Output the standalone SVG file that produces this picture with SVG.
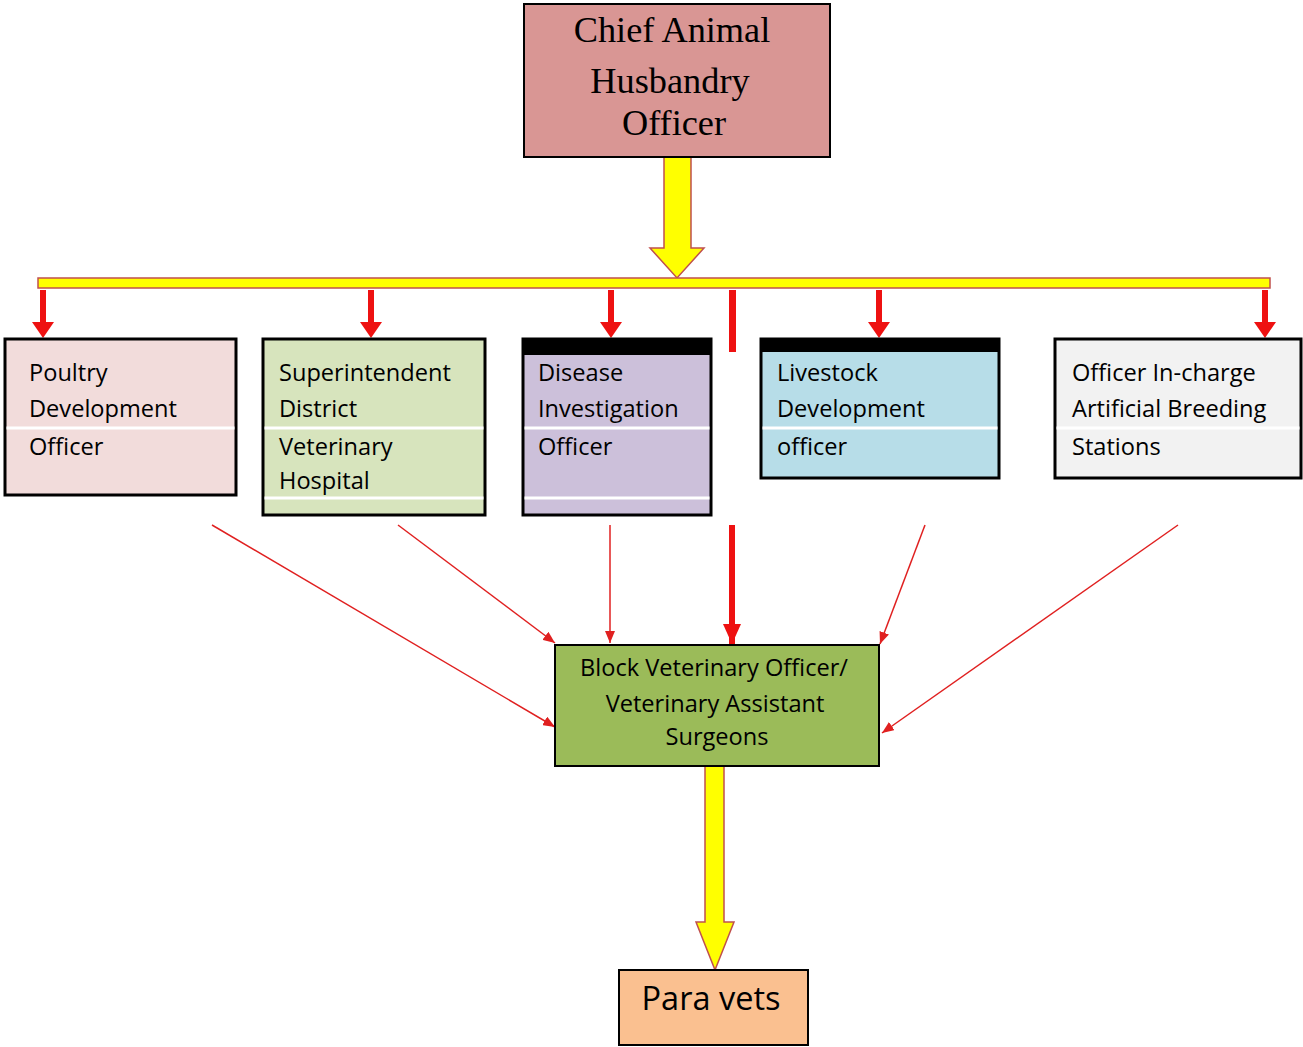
<svg xmlns="http://www.w3.org/2000/svg" width="1303" height="1047" viewBox="0 0 1303 1047">
<style>
.box{stroke:#000;stroke-width:3}
.sep{stroke:#fff;stroke-width:3}
.t{font-family:"Open Sans","Noto Sans",sans-serif;font-size:23.6px;fill:#000}
.serif{font-family:"Liberation Serif","Times New Roman",serif;font-size:36.3px;fill:#000}
.yel{fill:#ffff00;stroke:#c0504d;stroke-width:1.5}
.red{fill:#ee1111}
.thin{stroke:#e02020;stroke-width:1.5;fill:none}
</style>
<defs>
<marker id="ah" viewBox="0 0 12 10" refX="12" refY="5" markerWidth="12" markerHeight="10" markerUnits="userSpaceOnUse" orient="auto">
<path d="M0,0 L12,5 L0,10 Z" fill="#e02020"/>
</marker>
<marker id="ahb" viewBox="0 0 20 18" refX="20" refY="9" markerWidth="20" markerHeight="18" markerUnits="userSpaceOnUse" orient="auto">
<path d="M0,0 L20,9 L0,18 Z" fill="#ee1111"/>
</marker>
</defs>

<g id="connectors">
<path class="yel" d="M664,157 H691 V248 H704 L677,278 L650,248 H664 Z"/>
<rect class="yel" x="38" y="278" width="1232" height="10"/>
<path class="red" d="M40,290 H46 V322 H54 L43,338 L32,322 H40 Z"/>
<path class="red" d="M368,290 H374 V322 H382 L371,338 L360,322 H368 Z"/>
<path class="red" d="M608,290 H614 V322 H622 L611,338 L600,322 H608 Z"/>
<path class="red" d="M876,290 H882 V322 H890 L879,338 L868,322 H876 Z"/>
<path class="red" d="M1262,290 H1268 V322 H1276 L1265,338 L1254,322 H1262 Z"/>
<rect class="red" x="729" y="290" width="7" height="62"/>
<line class="thin" x1="212" y1="525" x2="555" y2="727" marker-end="url(#ah)"/>
<line class="thin" x1="398" y1="525" x2="555" y2="643" marker-end="url(#ah)"/>
<line class="thin" x1="610" y1="525" x2="610" y2="643" marker-end="url(#ah)"/>
<line x1="732" y1="525" x2="732" y2="644" stroke="#ee1111" stroke-width="6" marker-end="url(#ahb)"/>
<line class="thin" x1="925" y1="525" x2="880" y2="644" marker-end="url(#ah)"/>
<line class="thin" x1="1178" y1="525" x2="882" y2="733" marker-end="url(#ah)"/>
<path class="yel" d="M705,766 H724 V922 H734 L715,970 L696,922 H705 Z"/>
</g>

<g id="chief">
<rect x="524" y="4" width="306" height="153" fill="#d99694" stroke="#000" stroke-width="2"/>
<text class="serif" x="672" y="42" text-anchor="middle">Chief Animal</text>
<text class="serif" x="670" y="93" text-anchor="middle">Husbandry</text>
<text class="serif" x="674" y="135" text-anchor="middle">Officer</text>
</g>

<g id="poultry">
<rect class="box" x="5" y="339" width="231" height="156" fill="#f2dcdb"/>
<line class="sep" x1="6.5" y1="428" x2="234.5" y2="428"/>
<text class="t" x="29" y="381">Poultry</text>
<text class="t" x="29" y="417">Development</text>
<text class="t" x="29" y="455">Officer</text>
</g>

<g id="superintendent">
<rect class="box" x="263" y="339" width="222" height="176" fill="#d7e4bd"/>
<line class="sep" x1="264.5" y1="428" x2="483.5" y2="428"/>
<line class="sep" x1="264.5" y1="498" x2="483.5" y2="498"/>
<text class="t" x="279" y="381">Superintendent</text>
<text class="t" x="279" y="417">District</text>
<text class="t" x="279" y="455">Veterinary</text>
<text class="t" x="279" y="489">Hospital</text>
</g>

<g id="disease">
<rect class="box" x="523" y="339" width="188" height="176" fill="#ccc0da"/>
<rect x="523" y="338" width="188" height="17" fill="#000"/>
<line class="sep" x1="524.5" y1="428" x2="709.5" y2="428"/>
<line class="sep" x1="524.5" y1="498" x2="709.5" y2="498"/>
<text class="t" x="538" y="381">Disease</text>
<text class="t" x="538" y="417">Investigation</text>
<text class="t" x="538" y="455">Officer</text>
</g>

<g id="livestock">
<rect class="box" x="761" y="339" width="238" height="139" fill="#b7dde8"/>
<rect x="761" y="338" width="238" height="14" fill="#000"/>
<line class="sep" x1="762.5" y1="428" x2="997.5" y2="428"/>
<text class="t" x="777" y="381">Livestock</text>
<text class="t" x="777" y="417">Development</text>
<text class="t" x="777" y="455">officer</text>
</g>

<g id="breeding">
<rect class="box" x="1055" y="339" width="246" height="139" fill="#f2f2f2"/>
<line class="sep" x1="1056.5" y1="428" x2="1299.5" y2="428"/>
<text class="t" x="1072" y="381">Officer In-charge</text>
<text class="t" x="1072" y="417">Artificial Breeding</text>
<text class="t" x="1072" y="455">Stations</text>
</g>

<g id="bvo">
<rect x="555" y="645" width="324" height="121" fill="#9bbb59" stroke="#000" stroke-width="2"/>
<text class="t" x="714" y="676" text-anchor="middle">Block Veterinary Officer/</text>
<text class="t" x="715" y="712" text-anchor="middle">Veterinary Assistant</text>
<text class="t" x="717" y="745" text-anchor="middle">Surgeons</text>
</g>

<g id="paravets">
<rect x="619" y="970" width="189" height="75" fill="#fac090" stroke="#000" stroke-width="2"/>
<text class="t" x="711" y="1010" text-anchor="middle" style="font-size:32.5px">Para vets</text>
</g>
</svg>
